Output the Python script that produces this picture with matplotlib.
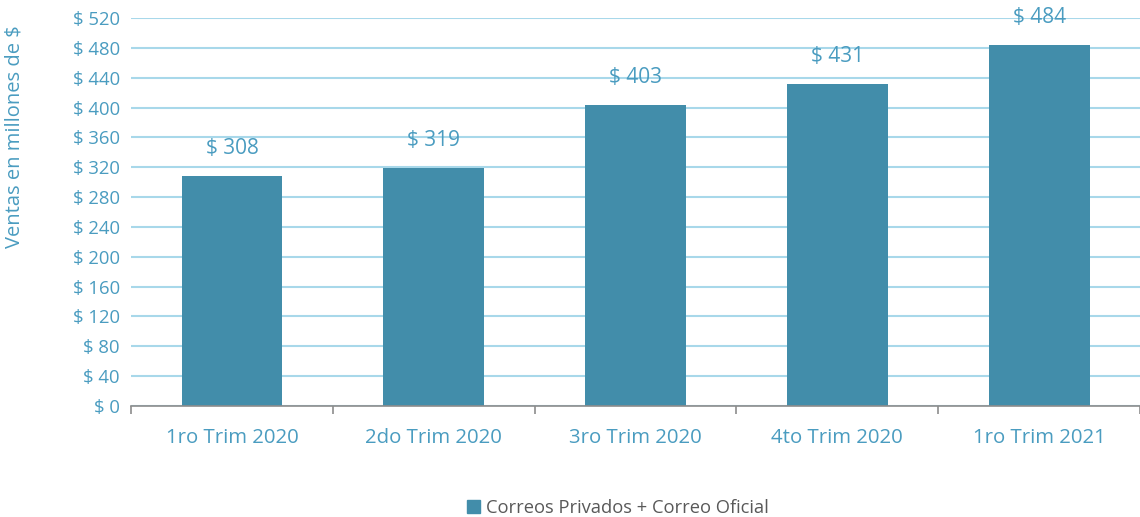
import matplotlib
matplotlib.use("Agg")
import matplotlib.pyplot as plt
import numpy as np
from matplotlib.patches import Patch

categories = ["1ro Trim 2020", "2do Trim 2020", "3ro Trim 2020", "4to Trim 2020", "1ro Trim 2021"]
values = [308, 319, 403, 431, 484]
yticks = list(range(0, 521, 40))
series_name = "Correos Privados + Correo Oficial"

plt.rcParams['font.family'] = ['Open Sans', 'DejaVu Sans']
blue_text = "#4A9CC0"
bar_color = "#428DAA"
grid_color = "#A8D8EA"

fig = plt.figure(figsize=(11.4, 5.17), dpi=100)
ax = fig.add_axes([0.115, 0.2147, 0.885, 0.7505])
x = np.arange(len(categories))
ax.bar(x, values, width=0.5, color=bar_color, zorder=3)
for xi, v in zip(x, values):
    ax.annotate(f"$ {v}", (xi, v), xytext=(0, 20), textcoords="offset points",
                ha="center", va="center", fontsize=15, color=blue_text)

ax.set_xlim(-0.5, len(categories) - 0.5)
ax.set_ylim(0, 520)
ax.set_yticks(yticks)
ax.set_yticklabels([f"$ {t}" for t in yticks])
ax.grid(axis="y", color=grid_color, linewidth=1.5, zorder=0)
ax.tick_params(axis="y", length=0, labelsize=13.3, labelcolor=blue_text, pad=8)
ax.set_xticks(x)
ax.set_xticklabels(categories)
ax.set_xticks(np.arange(-0.5, len(categories)), minor=True)
ax.tick_params(axis="x", which="major", length=0, labelsize=14.7, labelcolor=blue_text, pad=16)
ax.tick_params(axis="x", which="minor", length=6, color="#8C8C8C", width=1.2, direction="out")
for s in ["top", "right", "left"]:
    ax.spines[s].set_visible(False)
ax.spines["bottom"].set_color("#8C8C8C")
ax.spines["bottom"].set_linewidth(1.2)
ax.spines["bottom"].set_zorder(4)
ax.set_ylabel("Ventas en millones de $", fontsize=14.5, color=blue_text)
ax.yaxis.set_label_coords(-0.106, 0.693)

fig.legend(handles=[Patch(color=bar_color, label=series_name)], loc="center",
           bbox_to_anchor=(0.542, 0.017), frameon=False, fontsize=13.2,
           labelcolor="#595959", handlelength=0.7, handleheight=0.7, handletextpad=0.3)

fig.savefig("out.png", dpi=100)
